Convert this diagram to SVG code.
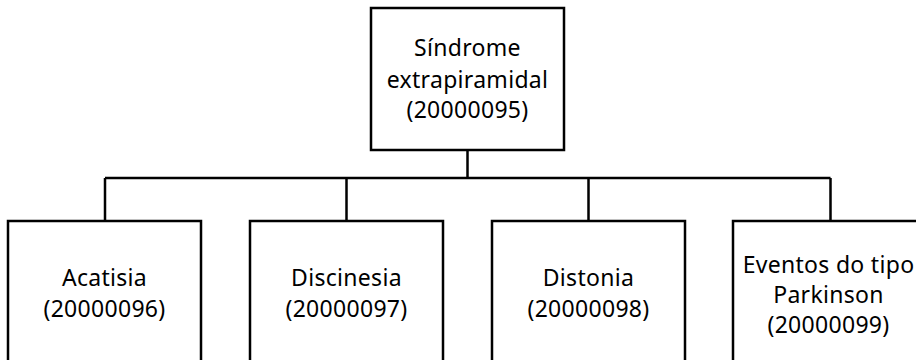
<svg xmlns="http://www.w3.org/2000/svg" width="916" height="360" viewBox="0 0 916 360">
<style>
.box{fill:#fff;stroke:#000;stroke-width:2.5}
.lbl{font-family:"Noto Sans","Open Sans",sans-serif;font-size:23px;letter-spacing:0.3px;fill:#000;text-anchor:middle}
.conn{fill:none;stroke:#000;stroke-width:2.5}
</style>
<rect width="916" height="360" fill="#fff"/>
<g id="connectors">
<path class="conn" d="M467.5 150 V178 M105 178 H830.5 M105 178 V221 M346.5 178 V221 M588.5 178 V221 M830.5 178 V221"/>
</g>
<g id="n0">
<rect class="box" x="371" y="8" width="193" height="142"/>
<text class="lbl" x="467.5" y="56">Síndrome</text>
<text class="lbl" x="467.5" y="88">extrapiramidal</text>
<text class="lbl" x="467.5" y="118">(20000095)</text>
</g>
<g id="n1">
<rect class="box" x="8" y="221" width="193" height="150"/>
<text class="lbl" x="104.5" y="286">Acatisia</text>
<text class="lbl" x="104.5" y="317">(20000096)</text>
</g>
<g id="n2">
<rect class="box" x="250" y="221" width="193" height="150"/>
<text class="lbl" x="346.5" y="286">Discinesia</text>
<text class="lbl" x="346.5" y="317">(20000097)</text>
</g>
<g id="n3">
<rect class="box" x="492" y="221" width="193" height="150"/>
<text class="lbl" x="588.5" y="286">Distonia</text>
<text class="lbl" x="588.5" y="317">(20000098)</text>
</g>
<g id="n4">
<rect class="box" x="733" y="221" width="193" height="150"/>
<text class="lbl" x="828.5" y="273">Eventos do tipo</text>
<text class="lbl" x="828.5" y="303">Parkinson</text>
<text class="lbl" x="828.5" y="333">(20000099)</text>
</g>
</svg>
